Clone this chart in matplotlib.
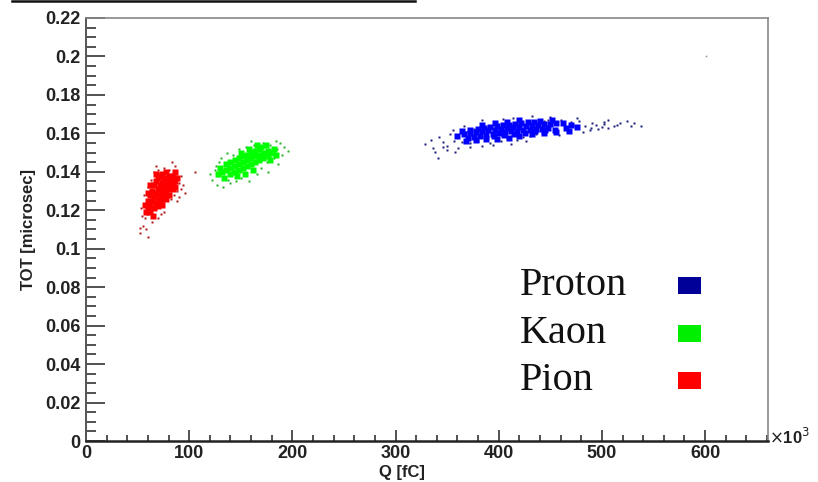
import matplotlib
matplotlib.use("Agg")
import matplotlib.pyplot as plt
from matplotlib.lines import Line2D
from matplotlib.ticker import MultipleLocator

# ---------------------------------------------------------------------------
# Data (Q in 10^3 fC, TOT in microsec)
# ---------------------------------------------------------------------------
pion_core = [
    (62, 0.122), (64, 0.125), (66, 0.127), (68, 0.129), (70, 0.131), (72, 0.133),
    (74, 0.134), (76, 0.136), (78, 0.137), (80, 0.138), (66, 0.121), (68, 0.124),
    (70, 0.126), (72, 0.128), (74, 0.130), (76, 0.132), (78, 0.133), (80, 0.135),
    (82, 0.136), (70, 0.122), (72, 0.124), (74, 0.126), (76, 0.128), (78, 0.130),
    (80, 0.131), (82, 0.133), (84, 0.134), (64, 0.130), (66, 0.133), (68, 0.135),
    (70, 0.137), (72, 0.138), (74, 0.139), (60, 0.125), (62, 0.128), (84, 0.138),
    (86, 0.140), (74, 0.123), (78, 0.126), (62, 0.119), (65, 0.117),
    (58, 0.119), (60, 0.121), (57, 0.123), (84, 0.131), (86, 0.135), (88, 0.137),
    (62, 0.133), (60, 0.129), (80, 0.128), (86, 0.132), (68, 0.139), (78, 0.140),
]
pion_halo = [
    (55, 0.112), (57, 0.116), (59, 0.118), (53, 0.121), (58, 0.124), (60, 0.132),
    (63, 0.136), (66, 0.140), (70, 0.141), (76, 0.142), (80, 0.141), (86, 0.143),
    (88, 0.137), (90, 0.134), (92, 0.131), (85, 0.128), (88, 0.130), (82, 0.126),
    (76, 0.119), (70, 0.116), (64, 0.114), (58, 0.110), (52, 0.108), (60, 0.106),
    (88, 0.125), (94, 0.133), (68, 0.143), (83, 0.145), (73, 0.118), (56, 0.128),
    (106, 0.140), (52, 0.111), (92, 0.138), (90, 0.127), (54, 0.117), (96, 0.129),
]

kaon_core = [
    (132, 0.140), (136, 0.141), (140, 0.142), (144, 0.143), (148, 0.144), (152, 0.145),
    (156, 0.146), (160, 0.147), (164, 0.148), (168, 0.149), (172, 0.150), (176, 0.151),
    (136, 0.144), (140, 0.145), (144, 0.146), (148, 0.147), (152, 0.148), (156, 0.149),
    (160, 0.150), (164, 0.151), (168, 0.152), (140, 0.139), (144, 0.140), (148, 0.141),
    (152, 0.142), (156, 0.143), (160, 0.144), (164, 0.145), (168, 0.146), (172, 0.147),
    (176, 0.148), (146, 0.138), (154, 0.139), (162, 0.141), (158, 0.152), (150, 0.150),
    (170, 0.153), (180, 0.150), (134, 0.137), (128, 0.139), (130, 0.142),
    (182, 0.152), (178, 0.146), (184, 0.149), (174, 0.154), (166, 0.154),
]
kaon_halo = [
    (122, 0.136), (125, 0.141), (127, 0.133), (129, 0.145), (131, 0.147), (128, 0.138),
    (138, 0.136), (142, 0.149), (145, 0.135), (150, 0.137), (155, 0.153), (158, 0.135),
    (163, 0.154), (166, 0.139), (170, 0.142), (175, 0.145), (178, 0.154), (182, 0.147),
    (185, 0.152), (188, 0.155), (190, 0.149), (184, 0.156), (172, 0.155), (160, 0.156),
    (148, 0.152), (137, 0.150), (126, 0.143), (133, 0.132), (176, 0.140), (186, 0.144),
    (192, 0.153), (120, 0.139), (140, 0.134), (196, 0.151),
]

proton_core = [
    (360, 0.1585), (366, 0.1595), (372, 0.1600), (378, 0.1605), (384, 0.1610),
    (390, 0.1615), (396, 0.1620), (402, 0.1625), (408, 0.1630), (414, 0.1632),
    (420, 0.1635), (426, 0.1640), (432, 0.1642), (438, 0.1645), (444, 0.1648),
    (450, 0.1650), (456, 0.1652), (462, 0.1655), (370, 0.1575), (376, 0.1580),
    (382, 0.1585), (388, 0.1590), (394, 0.1595), (400, 0.1600), (406, 0.1605),
    (412, 0.1610), (418, 0.1612), (424, 0.1615), (430, 0.1620), (436, 0.1622),
    (442, 0.1625), (448, 0.1630), (380, 0.1625), (386, 0.1630), (392, 0.1635),
    (398, 0.1640), (404, 0.1642), (410, 0.1645), (416, 0.1650), (422, 0.1655),
    (428, 0.1660), (434, 0.1658), (395, 0.1585), (405, 0.1590), (415, 0.1595),
    (425, 0.1600), (435, 0.1610), (445, 0.1615), (455, 0.1620), (465, 0.1630),
    (368, 0.1560), (378, 0.1565), (388, 0.1570), (398, 0.1572), (410, 0.1578),
    (420, 0.1585), (432, 0.1595), (444, 0.1600), (456, 0.1605), (468, 0.1612),
    (372, 0.1620), (384, 0.1645), (396, 0.1652), (408, 0.1660), (420, 0.1668),
    (440, 0.1665), (452, 0.1668), (470, 0.1645), (476, 0.1632), (364, 0.1610),
]
proton_halo = [
    (329, 0.1545), (334, 0.1565), (338, 0.1505), (342, 0.1580), (346, 0.1555),
    (350, 0.1535), (353, 0.1595), (357, 0.1560), (361, 0.1525), (364, 0.1555),
    (368, 0.1605), (372, 0.1548), (376, 0.1625), (380, 0.1560), (384, 0.1535),
    (388, 0.1568), (392, 0.1552), (397, 0.1575), (402, 0.1562), (408, 0.1578),
    (412, 0.1545), (418, 0.1568), (424, 0.1582), (430, 0.1585), (436, 0.1598),
    (442, 0.1600), (448, 0.1668), (454, 0.1605), (460, 0.1672), (466, 0.1615),
    (472, 0.1642), (478, 0.1662), (484, 0.1638), (490, 0.1655), (496, 0.1625),
    (502, 0.1648), (506, 0.1668), (512, 0.1638), (518, 0.1652), (524, 0.1662),
    (531, 0.1652), (384, 0.1670), (414, 0.1678), (444, 0.1662), (470, 0.1658),
    (494, 0.1645), (515, 0.1645), (500, 0.1632), (488, 0.1618), (350, 0.1515),
    (358, 0.1505), (372, 0.1528), (341, 0.1470), (346, 0.1527), (450, 0.1683),
    (489, 0.1626), (502, 0.1657), (506, 0.1630), (528, 0.1640), (538, 0.1640),
    (356, 0.1620), (366, 0.1640), (394, 0.1540), (426, 0.1560), (458, 0.1590),
    (482, 0.1605), (404, 0.1675), (432, 0.1690), (476, 0.1680), (336, 0.1525),
]
stray = [(601, 0.200)]

legend_labels = ["Proton", "Kaon", "Pion"]
legend_colors = ["#000099", "#00ee00", "#ff0000"]

x_ticks = [0, 100, 200, 300, 400, 500, 600]
y_ticks = [0, 0.02, 0.04, 0.06, 0.08, 0.1, 0.12, 0.14, 0.16, 0.18, 0.2, 0.22]
y_ticklabels = ["0", "0.02", "0.04", "0.06", "0.08", "0.1", "0.12", "0.14",
                "0.16", "0.18", "0.2", "0.22"]

# ---------------------------------------------------------------------------
W, H = 818, 482
fig = plt.figure(figsize=(W / 100, H / 100), dpi=100)
ax = fig.add_axes([86 / W, (H - 441) / H, (768 - 86) / W, (441 - 18) / H])


def scatter(points, color, ms, marker="s"):
    xs = [p[0] for p in points]
    ys = [p[1] for p in points]
    ax.plot(xs, ys, linestyle="none", marker=marker, ms=ms, color=color,
            mec="none")


scatter(pion_halo, "#b01818", 1.8)
scatter(pion_core, "#ff0000", 5.0)
scatter(kaon_halo, "#22b022", 1.8)
scatter(kaon_core, "#00ff00", 4.8)
scatter(proton_halo, "#1c1c7a", 1.8)
scatter(proton_core, "#0000ff", 4.6)
scatter(stray, "#9a9a9a", 1.2)

ax.set_xlim(0, 661)
ax.set_ylim(0, 0.22)

tick_font = dict(family="Liberation Sans", weight="bold", size=13, color="#222222")
ax.set_xticks(x_ticks)
ax.set_xticklabels([str(v) for v in x_ticks], fontdict=tick_font)
ax.set_yticks(y_ticks)
ax.set_yticklabels(y_ticklabels, fontdict=tick_font)
ax.xaxis.set_minor_locator(MultipleLocator(20))
ax.yaxis.set_minor_locator(MultipleLocator(0.005))

ax.tick_params(axis="x", which="major", direction="in", length=8, width=1.2,
               pad=3, color="#333333", top=False)
ax.tick_params(axis="x", which="minor", direction="in", length=4.3, width=1.2,
               color="#333333", top=False)
ax.tick_params(axis="y", which="major", direction="in", length=14, width=1.2,
               pad=4, color="#333333", right=False)
ax.tick_params(axis="y", which="minor", direction="in", length=7, width=1.2,
               color="#333333", right=False)

for side in ["top", "right"]:
    ax.spines[side].set_color("#888888")
    ax.spines[side].set_linewidth(1.2)
ax.spines["left"].set_color("#555555")
ax.spines["left"].set_linewidth(1.4)
ax.spines["bottom"].set_color("#222222")
ax.spines["bottom"].set_linewidth(1.8)

label_font = dict(family="Liberation Sans", weight="bold", size=12, color="#222222")
fig.text(402 / W, 1 - 472 / H, "Q [fC]", ha="center", va="center", **label_font)
fig.text(28 / W, 1 - 230 / H, "TOT [microsec]", ha="center", va="center",
         rotation=90, **label_font)
fig.text(769 / W, 1 - 437 / H, r"$\times$10$^{3}$", ha="left", va="center",
         **label_font)

# legend drawn as text plus coloured squares, as in the figure
baselines = [295, 343, 390]
for label, color, base in zip(legend_labels, legend_colors, baselines):
    fig.text(520 / W, 1 - base / H, label, ha="left", va="baseline",
             family="Liberation Serif", size=29, color="#111111")
    fig.patches.append(plt.Rectangle((678 / W, 1 - (base - 1) / H),
                                     23 / W, 17 / H, transform=fig.transFigure,
                                     facecolor=color, edgecolor="none"))

# crop edge line across the top of the image
fig.add_artist(Line2D([12 / W, 415 / W], [1 - 1 / H, 1 - 1 / H],
                      transform=fig.transFigure, color="#111111", lw=1.8))

fig.savefig("out.png", dpi=100)
